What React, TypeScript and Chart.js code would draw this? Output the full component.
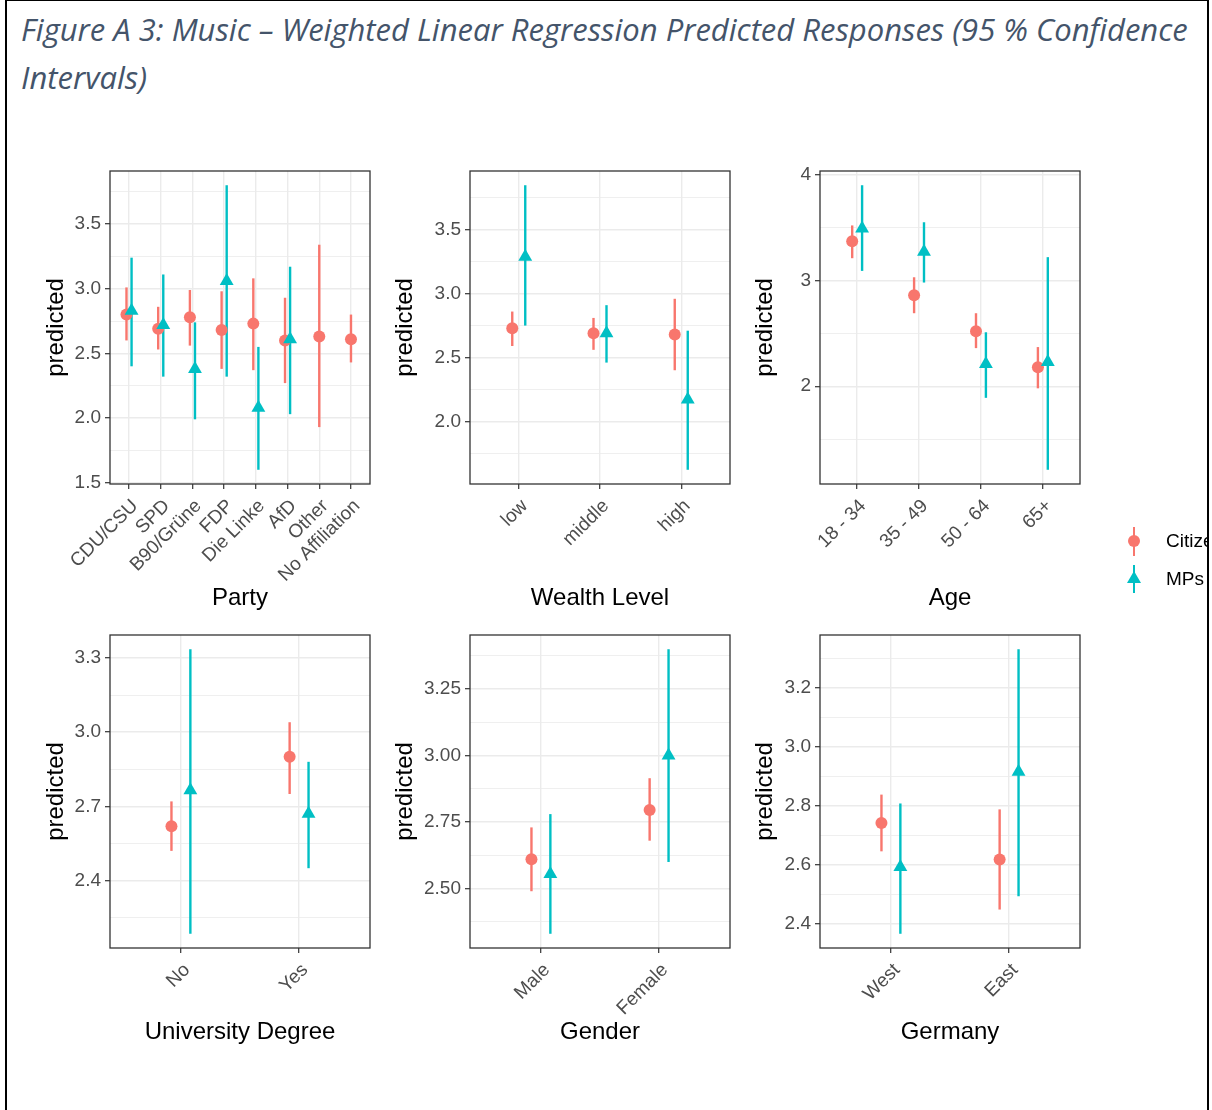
import React, { useEffect, useRef } from "react";
import { Chart, registerables } from "chart.js";

Chart.register(...registerables);
Chart.defaults.font.family = "'Liberation Sans', Arial, Helvetica, sans-serif";

const CITIZEN_COLOR = "#F8766D";
const MP_COLOR = "#00BFC4";

// ---------- Party ----------
const partyCategories = ["CDU/CSU", "SPD", "B90/Grüne", "FDP", "Die Linke", "AfD", "Other", "No Affiliation"];
const partyCitizens = [2.80, 2.69, 2.78, 2.68, 2.73, 2.60, 2.63, 2.61];
const partyCitizensLow = [2.60, 2.53, 2.56, 2.38, 2.37, 2.27, 1.93, 2.43];
const partyCitizensHigh = [3.01, 2.86, 2.99, 2.98, 3.08, 2.93, 3.34, 2.80];
const partyMPs = [2.83, 2.72, 2.38, 3.06, 2.08, 2.61, null, null];
const partyMPsLow = [2.40, 2.32, 1.99, 2.32, 1.60, 2.03, null, null];
const partyMPsHigh = [3.24, 3.11, 2.74, 3.80, 2.55, 3.17, null, null];
const partyYTicks = [1.5, 2.0, 2.5, 3.0, 3.5];
const partyYTickLabels = ["1.5", "2.0", "2.5", "3.0", "3.5"];
const partyYMinor = [1.75, 2.25, 2.75, 3.25, 3.75];

// ---------- Wealth Level ----------
const wealthCategories = ["low", "middle", "high"];
const wealthCitizens = [2.73, 2.69, 2.68];
const wealthCitizensLow = [2.59, 2.56, 2.40];
const wealthCitizensHigh = [2.86, 2.81, 2.96];
const wealthMPs = [3.29, 2.69, 2.17];
const wealthMPsLow = [2.75, 2.46, 1.62];
const wealthMPsHigh = [3.85, 2.91, 2.71];
const wealthYTicks = [2.0, 2.5, 3.0, 3.5];
const wealthYTickLabels = ["2.0", "2.5", "3.0", "3.5"];
const wealthYMinor = [1.75, 2.25, 2.75, 3.25, 3.75];

// ---------- Age ----------
const ageCategories = ["18 - 34", "35 - 49", "50 - 64", "65+"];
const ageCitizens = [3.37, 2.86, 2.52, 2.18];
const ageCitizensLow = [3.21, 2.69, 2.36, 1.98];
const ageCitizensHigh = [3.52, 3.03, 2.69, 2.37];
const ageMPs = [3.49, 3.27, 2.21, 2.23];
const ageMPsLow = [3.09, 2.98, 1.89, 1.21];
const ageMPsHigh = [3.90, 3.55, 2.51, 3.22];
const ageYTicks = [2, 3, 4];
const ageYTickLabels = ["2", "3", "4"];
const ageYMinor = [1.5, 2.5, 3.5];

// ---------- University Degree ----------
const uniCategories = ["No", "Yes"];
const uniCitizens = [2.62, 2.90];
const uniCitizensLow = [2.52, 2.75];
const uniCitizensHigh = [2.72, 3.04];
const uniMPs = [2.765, 2.67];
const uniMPsLow = [2.185, 2.45];
const uniMPsHigh = [3.335, 2.88];
const uniYTicks = [2.4, 2.7, 3.0, 3.3];
const uniYTickLabels = ["2.4", "2.7", "3.0", "3.3"];
const uniYMinor = [2.25, 2.55, 2.85, 3.15];

// ---------- Gender ----------
const genderCategories = ["Male", "Female"];
const genderCitizens = [2.61, 2.795];
const genderCitizensLow = [2.49, 2.68];
const genderCitizensHigh = [2.73, 2.915];
const genderMPs = [2.555, 3.0];
const genderMPsLow = [2.33, 2.60];
const genderMPsHigh = [2.78, 3.40];
const genderYTicks = [2.5, 2.75, 3.0, 3.25];
const genderYTickLabels = ["2.50", "2.75", "3.00", "3.25"];
const genderYMinor = [2.375, 2.625, 2.875, 3.125, 3.375];

// ---------- Germany ----------
const germanyCategories = ["West", "East"];
const germanyCitizens = [2.742, 2.618];
const germanyCitizensLow = [2.646, 2.449];
const germanyCitizensHigh = [2.838, 2.788];
const germanyMPs = [2.593, 2.915];
const germanyMPsLow = [2.367, 2.494];
const germanyMPsHigh = [2.808, 3.33];
const germanyYTicks = [2.4, 2.6, 2.8, 3.0, 3.2];
const germanyYTickLabels = ["2.4", "2.6", "2.8", "3.0", "3.2"];
const germanyYMinor = [2.5, 2.7, 2.9, 3.1, 3.3];

const TITLE_TEXT = "Figure A 3: Music – Weighted Linear Regression Predicted Responses (95 % Confidence";
const TITLE_TEXT_2 = "Intervals)";
const legendLabels = ["Citizens", "MPs"];

const TICK_FONT = 19;
const TITLE_FONT = 24;

type Series = (number | null)[];
type PanelDef = {
  xTitle: string;
  cats: string[];
  cit: Series; citLow: Series; citHigh: Series;
  mp: Series; mpLow: Series; mpHigh: Series;
  yTicks: number[]; yTickLabels: string[]; yMinor: number[];
  left: number; top: number; width: number; height: number;
  padTop: number; padRight: number; yAxisW: number; xAxisH: number;
};

const PAD_TOP = 20;
const ROW1 = { top: 151, height: 466, xAxisH: 133 };
const ROW2 = { top: 615, height: 436, xAxisH: 103 };
const COL1 = { left: 38, width: 342, yAxisW: 72 };
const COL2 = { left: 387, width: 353, yAxisW: 83 };
const COL3 = { left: 747, width: 343, yAxisW: 73 };

function mk(
  xTitle: string, cats: string[], cit: Series, citLow: Series, citHigh: Series,
  mp: Series, mpLow: Series, mpHigh: Series, yTicks: number[], yTickLabels: string[], yMinor: number[],
  row: { top: number; height: number; xAxisH: number }, col: { left: number; width: number; yAxisW: number }
): PanelDef {
  return {
    xTitle, cats, cit, citLow, citHigh, mp, mpLow, mpHigh, yTicks, yTickLabels, yMinor,
    left: col.left, top: row.top, width: col.width, height: row.height,
    padTop: PAD_TOP, padRight: 10, yAxisW: col.yAxisW, xAxisH: row.xAxisH,
  };
}

const panels: PanelDef[] = [
  mk("Party", partyCategories, partyCitizens, partyCitizensLow, partyCitizensHigh, partyMPs, partyMPsLow, partyMPsHigh, partyYTicks, partyYTickLabels, partyYMinor, ROW1, COL1),
  mk("Wealth Level", wealthCategories, wealthCitizens, wealthCitizensLow, wealthCitizensHigh, wealthMPs, wealthMPsLow, wealthMPsHigh, wealthYTicks, wealthYTickLabels, wealthYMinor, ROW1, COL2),
  mk("Age", ageCategories, ageCitizens, ageCitizensLow, ageCitizensHigh, ageMPs, ageMPsLow, ageMPsHigh, ageYTicks, ageYTickLabels, ageYMinor, ROW1, COL3),
  mk("University Degree", uniCategories, uniCitizens, uniCitizensLow, uniCitizensHigh, uniMPs, uniMPsLow, uniMPsHigh, uniYTicks, uniYTickLabels, uniYMinor, ROW2, COL1),
  mk("Gender", genderCategories, genderCitizens, genderCitizensLow, genderCitizensHigh, genderMPs, genderMPsLow, genderMPsHigh, genderYTicks, genderYTickLabels, genderYMinor, ROW2, COL2),
  mk("Germany", germanyCategories, germanyCitizens, germanyCitizensLow, germanyCitizensHigh, germanyMPs, germanyMPsLow, germanyMPsHigh, germanyYTicks, germanyYTickLabels, germanyYMinor, ROW2, COL3),
];

const DODGE = 0.08;

const panelBorderPlugin = {
  id: "panelBorder",
  afterDraw(chart: any) {
    const { ctx, chartArea: a } = chart;
    ctx.save();
    ctx.strokeStyle = "#333333";
    ctx.lineWidth = 1.3;
    ctx.strokeRect(a.left, a.top, a.right - a.left, a.bottom - a.top);
    ctx.restore();
  },
};

function buildConfig(p: PanelDef): any {
  const n = p.cats.length;
  const vals: number[] = [];
  [p.citLow, p.citHigh, p.mpLow, p.mpHigh].forEach((s) => s.forEach((v) => { if (v != null) vals.push(v); }));
  const dMin = Math.min(...vals);
  const dMax = Math.max(...vals);
  const span = dMax - dMin;
  const yMin = dMin - 0.05 * span;
  const yMax = dMax + 0.05 * span;

  const xPos = (i: number, isMP: boolean) => {
    const both = p.cit[i] != null && p.mp[i] != null;
    if (!both) return i + 1;
    return i + 1 + (isMP ? DODGE : -DODGE);
  };

  const barSets: any[] = [];
  const addBars = (pred: Series, lo: Series, hi: Series, isMP: boolean, color: string, order: number) => {
    pred.forEach((v, i) => {
      if (v == null || lo[i] == null || hi[i] == null) return;
      const x = xPos(i, isMP);
      barSets.push({
        data: [{ x, y: lo[i] }, { x, y: hi[i] }],
        showLine: true,
        borderColor: color,
        borderWidth: 2.4,
        pointRadius: 0,
        order,
      });
    });
  };
  addBars(p.cit, p.citLow, p.citHigh, false, CITIZEN_COLOR, 10);
  addBars(p.mp, p.mpLow, p.mpHigh, true, MP_COLOR, 9);

  const pointsOf = (pred: Series, isMP: boolean) =>
    pred.map((v, i) => (v == null ? null : { x: xPos(i, isMP), y: v })).filter((d) => d != null);

  const datasets = [
    ...barSets,
    {
      label: legendLabels[0],
      data: pointsOf(p.cit, false),
      pointStyle: "circle",
      pointRadius: 6,
      backgroundColor: CITIZEN_COLOR,
      borderWidth: 0,
      order: 2,
    },
    {
      label: legendLabels[1],
      data: pointsOf(p.mp, true),
      pointStyle: "triangle",
      pointRadius: 8,
      backgroundColor: MP_COLOR,
      borderWidth: 0,
      order: 1,
    },
  ];

  const isMajor = (v: number) => p.yTicks.some((t) => Math.abs(t - v) < 1e-9);

  return {
    type: "scatter",
    data: { datasets },
    plugins: [panelBorderPlugin],
    options: {
      animation: false,
      responsive: false,
      events: [],
      layout: { padding: { top: p.padTop, right: p.padRight, left: 0, bottom: 0 } },
      plugins: { legend: { display: false }, tooltip: { enabled: false } },
      scales: {
        x: {
          type: "linear",
          min: 0.4,
          max: n + 0.6,
          afterBuildTicks: (s: any) => {
            s.ticks = p.cats.map((_, i) => ({ value: i + 1 }));
          },
          afterFit: (s: any) => {
            s.height = p.xAxisH;
          },
          ticks: {
            autoSkip: false,
            minRotation: 45,
            maxRotation: 45,
            padding: 6,
            labelOffset: 6,
            color: "#4D4D4D",
            font: { size: TICK_FONT },
            callback: (v: number) => p.cats[Math.round(v) - 1] ?? "",
          },
          grid: {
            color: "#EBEBEB",
            lineWidth: 1.4,
            tickColor: "#333333",
            tickLength: 5,
            tickWidth: 1.2,
          },
          border: { display: false },
          title: {
            display: true,
            text: p.xTitle,
            color: "#000000",
            font: { size: TITLE_FONT },
            padding: { top: 4, bottom: 4 },
          },
        },
        y: {
          type: "linear",
          min: yMin,
          max: yMax,
          afterBuildTicks: (s: any) => {
            s.ticks = [...p.yTicks, ...p.yMinor]
              .filter((v) => v >= yMin && v <= yMax)
              .sort((a, b) => a - b)
              .map((v) => ({ value: v }));
          },
          afterFit: (s: any) => {
            s.width = p.yAxisW;
          },
          ticks: {
            autoSkip: false,
            padding: 4,
            color: "#4D4D4D",
            font: { size: TICK_FONT },
            callback: (v: number) => {
              const idx = p.yTicks.findIndex((t) => Math.abs(t - v) < 1e-9);
              return idx >= 0 ? p.yTickLabels[idx] : "";
            },
          },
          grid: {
            color: "#EBEBEB",
            lineWidth: (ctx: any) => (ctx.tick && isMajor(ctx.tick.value) ? 1.4 : 0.8),
            tickColor: (ctx: any) => (ctx.tick && isMajor(ctx.tick.value) ? "#333333" : "rgba(0,0,0,0)"),
            tickLength: 5,
            tickWidth: 1.2,
          },
          border: { display: false },
          title: {
            display: true,
            text: "predicted",
            color: "#000000",
            font: { size: TITLE_FONT },
            padding: { top: 4, bottom: 4 },
          },
        },
      },
    },
  };
}

function Panel({ p }: { p: PanelDef }) {
  const ref = useRef<HTMLCanvasElement | null>(null);
  useEffect(() => {
    if (!ref.current) return;
    const chart = new Chart(ref.current, buildConfig(p));
    return () => chart.destroy();
  }, [p]);
  return (
    <canvas
      ref={ref}
      width={p.width}
      height={p.height}
      style={{ position: "absolute", left: p.left, top: p.top, width: p.width, height: p.height }}
    />
  );
}

function Legend() {
  const lineX = 1134;
  const textStyle: React.CSSProperties = {
    position: "absolute",
    left: 1166,
    fontFamily: "'Liberation Sans', Arial, sans-serif",
    fontSize: TICK_FONT,
    lineHeight: "22px",
    color: "#000",
    whiteSpace: "nowrap",
  };
  return (
    <div style={{ position: "absolute", left: 0, top: 0, width: 1207, height: 1110, overflow: "hidden", pointerEvents: "none" }}>
      <div style={{ position: "absolute", left: lineX - 1.2, top: 527, width: 2.4, height: 29, background: CITIZEN_COLOR }} />
      <div style={{ position: "absolute", left: lineX - 6, top: 541 - 6, width: 12, height: 12, borderRadius: "50%", background: CITIZEN_COLOR }} />
      <div style={{ ...textStyle, top: 530 }}>{legendLabels[0]}</div>
      <div style={{ position: "absolute", left: lineX - 1.2, top: 565, width: 2.4, height: 28, background: MP_COLOR }} />
      <div
        style={{
          position: "absolute",
          left: lineX - 7,
          top: 571,
          width: 0,
          height: 0,
          borderLeft: "7px solid transparent",
          borderRight: "7px solid transparent",
          borderBottom: "12px solid " + MP_COLOR,
        }}
      />
      <div style={{ ...textStyle, top: 568 }}>{legendLabels[1]}</div>
    </div>
  );
}

export default function App() {
  return (
    <div style={{ position: "absolute", left: 0, top: 0, width: 1212, height: 1110, background: "#ffffff", overflow: "hidden" }}>
      <div
        style={{
          position: "absolute",
          left: 21,
          top: 5,
          fontFamily: "'Open Sans', sans-serif",
          fontStyle: "italic",
          fontSize: 31,
          lineHeight: "48px",
          color: "#44546A",
          whiteSpace: "nowrap",
        }}
      >
        {TITLE_TEXT}
        <br />
        {TITLE_TEXT_2}
      </div>
      {panels.map((p, i) => (
        <Panel key={i} p={p} />
      ))}
      <Legend />
      <div
        style={{
          position: "absolute",
          left: 5,
          top: -1,
          width: 1204,
          height: 1120,
          boxSizing: "border-box",
          borderLeft: "2px solid #000",
          borderRight: "2px solid #000",
          borderTop: "2px solid #000",
          pointerEvents: "none",
        }}
      />
    </div>
  );
}
